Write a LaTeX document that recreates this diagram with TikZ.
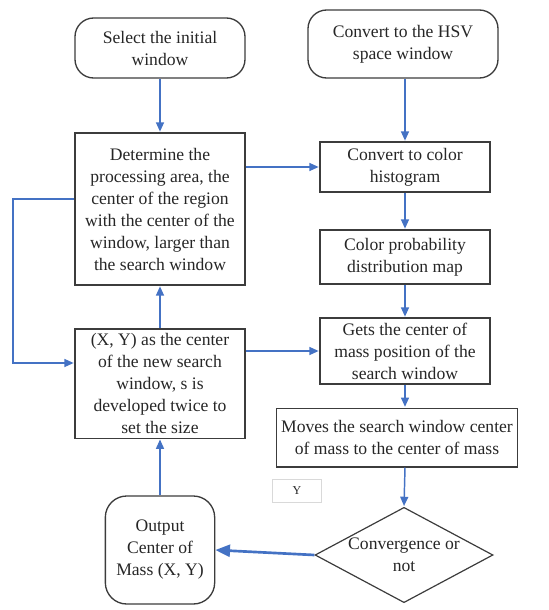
\documentclass[tikz,border=0pt]{standalone}
\usepackage{fontspec}
\setmainfont{Liberation Serif}[Ligatures=TeX]
\usepackage{tikz}
\usetikzlibrary{arrows.meta,positioning,shapes.geometric}

\definecolor{flowblue}{RGB}{68,114,196}
\definecolor{boxgray}{RGB}{60,60,60}

\begin{document}
\begin{tikzpicture}[x=0.75pt,y=-0.75pt,>=Triangle, every node/.style={font=\rmfamily\fontsize{13.2}{16.5}\selectfont,text=black!85}]
    \tikzset{proc/.style={draw=boxgray,line width=1pt,align=center,inner sep=1pt}}
    \tikzset{term/.style={proc,rounded corners=14pt}}
    \tikzset{decide/.style={draw=boxgray,line width=0.9pt,diamond,aspect=1.87,inner sep=0pt,align=center}}
    \tikzset{flow/.style={->,flowblue,line width=1.1pt,shorten >=0.5pt,>={Triangle[width=6pt,length=7pt]}}}
    \tikzset{bigflow/.style={->,flowblue,line width=2pt,>={Triangle[width=9pt,length=11pt]}}}
    \tikzset{tag/.style={draw=black!15,line width=0.6pt,minimum width=36.75pt,minimum height=17pt,font=\rmfamily\fontsize{9}{10}\selectfont}}

    \useasboundingbox (0,0) rectangle (549,610);

    % Start boxes
    \node[term,minimum width=127.5pt,minimum height=45pt] (sel) at (160,48) {Select the initial\\window};
    \node[term,minimum width=142.5pt,minimum height=51pt] (hsv) at (403,44) {Convert to the HSV\\space window};

    % Left column
    \node[proc,minimum width=127.5pt,minimum height=114pt] (det) at (160,209)
        {Determine the\\processing area, the\\center of the region\\with the center of the\\window, larger than\\the search window};
    \node[proc,minimum width=127.5pt,minimum height=82pt] (xy) at (160,383.5)
        {(X, Y) as the center\\of the new search\\window, s is\\developed twice to\\set the size};
    \node[term,rounded corners=16pt,minimum width=82pt,minimum height=81pt] (out) at (160,550)
        {Output\\Center of\\Mass (X, Y)};

    % Right column
    \node[proc,minimum width=127.5pt,minimum height=37.5pt] (hist) at (405,167) {Convert to color\\histogram};
    \node[proc,minimum width=127.5pt,minimum height=40.5pt] (prob) at (405,257) {Color probability\\distribution map};
    \node[proc,minimum width=127.5pt,minimum height=49.5pt] (gets) at (405,351)
        {Gets the center of\\mass position of the\\search window};
    \node[proc,minimum width=181pt,minimum height=44pt] (moves) at (397,437.5)
        {Moves the search window center\\of mass to the center of mass};
    \node[decide,minimum width=133.5pt,minimum height=71.5pt] (conv) at (404,555) {Convergence or\\not};
    \node[tag] (ylab) at (297,491) {Y};

    % Arrows down
    \draw[flow] (sel) -- (det);
    \draw[flow] (hsv.south -| hist) -- (hist);
    \draw[flow] (hist) -- (prob);
    \draw[flow] (prob) -- (gets);
    \draw[flow] (gets.south) -- (gets.south |- moves.north);
    \draw[flow] (gets.south |- moves.south) -- (conv.north);

    % Arrows across
    \draw[flow] (det.east |- hist.west) -- (hist.west);
    \draw[flow] (xy.east |- gets.west) -- (gets.west);
    \draw[bigflow] (conv.west) -- (out.east);

    % Arrows up
    \draw[flow] (out) -- (xy);
    \draw[flow] (xy) -- (det);

    % Feedback loop on the left
    \coordinate (fbtop) at (13,199);
    \coordinate (fbbot) at (13,363);
    \draw[flow] (det.west |- fbtop) -- (fbtop) -- (fbbot) -- (xy.west |- fbbot);
  \end{tikzpicture}
\end{document}
